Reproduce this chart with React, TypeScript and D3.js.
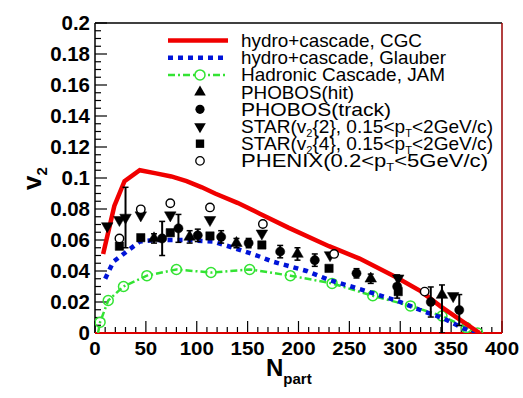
import React, { useEffect, useRef } from "react";
import * as d3 from "d3";

// model curves
const cgcN = [8, 19, 29, 44, 60, 75, 90, 105, 118, 140, 162, 190, 230, 260, 296, 320, 340, 360, 378];
const cgcV = [0.051, 0.082, 0.098, 0.105, 0.103, 0.101, 0.098, 0.094, 0.09, 0.084, 0.077, 0.068, 0.056, 0.048, 0.036, 0.027, 0.017, 0.008, 0.0];

const glauberN = [10, 18, 26, 33, 44, 60, 90, 116, 136, 159, 175, 208, 231, 257, 296, 319, 342, 362, 375];
const glauberV = [0.035, 0.046, 0.05, 0.0535, 0.059, 0.06, 0.06, 0.059, 0.055, 0.05, 0.046, 0.04, 0.034, 0.029, 0.021, 0.015, 0.0095, 0.003, 0.0];

const jamN = [3, 5, 13, 28, 51, 80, 114, 152, 192, 233, 273, 310, 341, 365, 376];
const jamV = [0.0, 0.007, 0.021, 0.03, 0.037, 0.041, 0.039, 0.041, 0.037, 0.032, 0.024, 0.0175, 0.011, 0.0035, 0.0];

// data
const phobosHitN = [58, 93, 139, 199, 271, 341];
const phobosHitV = [0.061, 0.062, 0.058, 0.051, 0.035, 0.0245];
const phobosHitErrHi = [0.003, 0.004, 0.003, 0.004, 0.003, 0.0065];
const phobosHitErrLo = [0.003, 0.004, 0.003, 0.004, 0.003, 0.0245];

const phobosTrackN = [66, 82, 101, 124, 151, 182, 216, 257, 297, 330, 358];
const phobosTrackV = [0.061, 0.0675, 0.063, 0.062, 0.058, 0.0525, 0.047, 0.0385, 0.03, 0.02, 0.0148];
const phobosTrackErr = [0.011, 0.009, 0.004, 0.004, 0.003, 0.004, 0.004, 0.003, 0.0075, 0.0097, 0.01];

const star2N = [12, 24, 30, 45, 74, 113, 164, 231, 298, 352];
const star2V = [0.069, 0.073, 0.0745, 0.076, 0.076, 0.073, 0.0643, 0.0503, 0.0353, 0.0239];
const star2Err = [0, 0, 0.0195, 0, 0, 0, 0, 0, 0, 0];

const star4N = [24, 45, 74, 113, 164, 230, 298];
const star4V = [0.056, 0.0615, 0.0647, 0.0626, 0.0568, 0.0417, 0.0267];

const phenixN = [24, 45, 74, 113, 165, 235, 324];
const phenixV = [0.061, 0.0798, 0.0837, 0.081, 0.0703, 0.051, 0.0267];

const xTicks = [0, 50, 100, 150, 200, 250, 300, 350, 400];
const yTicks = [0, 0.02, 0.04, 0.06, 0.08, 0.1, 0.12, 0.14, 0.16, 0.18, 0.2];
const yTickLabels = ["0", "0.02", "0.04", "0.06", "0.08", "0.1", "0.12", "0.14", "0.16", "0.18", "0.2"];

const legendLabels = [
  "hydro+cascade, CGC",
  "hydro+cascade, Glauber",
  "Hadronic Cascade, JAM",
  "PHOBOS(hit)",
  "PHOBOS(track)",
  "STAR2",
  "STAR4",
  "PHENIX",
];
const legendWidths = [181, 205, 204, 113, 150, 252, 252, 247];

const FONT = "Liberation Sans, Arial, Helvetica, sans-serif";

export default function App() {
  const svgRef = useRef<SVGSVGElement | null>(null);

  useEffect(() => {
    if (!svgRef.current) return;
    const svg = d3.select(svgRef.current);
    svg.selectAll("*").remove();

    const left = 95, right = 502, top = 23, bottom = 333;
    const x = d3.scaleLinear().domain([0, 400]).range([left, right]);
    const y = d3.scaleLinear().domain([0, 0.2]).range([bottom, top]);

    svg.append("rect").attr("width", 523).attr("height", 398).attr("fill", "#fff");

    const plot = svg.append("g");
    plot
      .append("clipPath")
      .attr("id", "clip")
      .append("rect")
      .attr("x", left)
      .attr("y", top)
      .attr("width", right - left)
      .attr("height", bottom - top);

    // ticks (inside frame)
    const xMinor = d3.range(0, 401, 10);
    plot
      .selectAll(".xt")
      .data(xMinor)
      .enter()
      .append("line")
      .attr("x1", (d) => x(d))
      .attr("x2", (d) => x(d))
      .attr("y1", bottom)
      .attr("y2", (d) => bottom - (d % 50 === 0 ? 12 : 6))
      .attr("stroke", "#000")
      .attr("stroke-width", 1.2);

    const yMinor = d3.range(0, 41).map((i) => i * 0.005);
    plot
      .selectAll(".yt")
      .data(yMinor)
      .enter()
      .append("line")
      .attr("x1", left)
      .attr("x2", (d, i) => left + (i % 4 === 0 ? 12 : 6))
      .attr("y1", (d) => y(d))
      .attr("y2", (d) => y(d))
      .attr("stroke", "#000")
      .attr("stroke-width", 1.2);

    // frame
    plot.append("line").attr("x1", left).attr("x2", right).attr("y1", top).attr("y2", top).attr("stroke", "#000").attr("stroke-width", 1.5);
    plot.append("line").attr("x1", left).attr("x2", left).attr("y1", top).attr("y2", bottom).attr("stroke", "#000").attr("stroke-width", 1.5);
    plot.append("line").attr("x1", right).attr("x2", right).attr("y1", top).attr("y2", bottom).attr("stroke", "#900").attr("stroke-width", 1.5);
    plot.append("line").attr("x1", left).attr("x2", right).attr("y1", bottom).attr("y2", bottom).attr("stroke", "#d00").attr("stroke-width", 2);

    // tick labels
    svg
      .selectAll(".xl")
      .data(xTicks)
      .enter()
      .append("text")
      .attr("transform", (d) => `translate(${x(d)},355) scale(1.08,1)`)
      .attr("text-anchor", "middle")
      .attr("font-family", FONT)
      .attr("font-weight", "bold")
      .attr("font-size", 19)
      .text((d) => d);

    svg
      .selectAll(".yl")
      .data(yTicks)
      .enter()
      .append("text")
      .attr("transform", (d) => `translate(90,${y(d) + 7}) scale(1.05,1)`)
      .attr("text-anchor", "end")
      .attr("font-family", FONT)
      .attr("font-weight", "bold")
      .attr("font-size", 19.5)
      .text((d, i) => yTickLabels[i]);

    // axis titles
    const xt = svg
      .append("text")
      .attr("x", 266)
      .attr("y", 376)
      .attr("font-family", FONT)
      .attr("font-weight", "bold")
      .attr("font-size", 24);
    xt.append("tspan").text("N");
    xt.append("tspan").attr("font-size", 15).attr("dy", 8).text("part");

    const yt = svg
      .append("text")
      .attr("transform", "translate(41,190) rotate(-90)")
      .attr("font-family", FONT)
      .attr("font-weight", "bold")
      .attr("font-size", 26);
    yt.append("tspan").text("v");
    yt.append("tspan").attr("font-size", 15).attr("dy", 6).text("2");

    const inner = plot.append("g").attr("clip-path", "url(#clip)");

    const curve = (ns: number[], vs: number[]) =>
      d3.line<number>().x((d, i) => x(ns[i])).y((d, i) => y(vs[i]))(ns) as string;

    inner
      .append("path")
      .attr("d", curve(jamN, jamV))
      .attr("fill", "none")
      .attr("stroke", "#33e333")
      .attr("stroke-width", 2.5)
      .attr("stroke-dasharray", "7,3,2,3");
    inner
      .selectAll(".jc")
      .data(jamN.slice(1))
      .enter()
      .append("circle")
      .attr("cx", (d) => x(d))
      .attr("cy", (d, i) => y(jamV[i + 1]))
      .attr("r", 5)
      .attr("fill", "none")
      .attr("stroke", "#33e333")
      .attr("stroke-width", 1.5);

    inner
      .append("path")
      .attr("d", curve(glauberN, glauberV))
      .attr("fill", "none")
      .attr("stroke", "#0014d8")
      .attr("stroke-width", 4.5)
      .attr("stroke-dasharray", "5,5");

    inner
      .append("path")
      .attr("d", curve(cgcN, cgcV))
      .attr("fill", "none")
      .attr("stroke", "#f00000")
      .attr("stroke-width", 4.5);

    // markers
    const tri = d3.symbol().type(d3.symbolTriangle).size(58);
    const sq = d3.symbol().type(d3.symbolSquare).size(70);
    const circ = d3.symbol().type(d3.symbolCircle).size(66);
    const ocirc = d3.symbol().type(d3.symbolCircle).size(56);

    const errBars = (ns: number[], vs: number[], hi: number[], lo: number[]) => {
      ns.forEach((n, i) => {
        if (!hi[i] && !lo[i]) return;
        const cx = x(n);
        const y1 = y(vs[i] + hi[i]);
        const y2 = y(vs[i] - lo[i]);
        inner.append("line").attr("x1", cx).attr("x2", cx).attr("y1", y1).attr("y2", y2).attr("stroke", "#000").attr("stroke-width", 2);
        inner.append("line").attr("x1", cx - 3).attr("x2", cx + 3).attr("y1", y1).attr("y2", y1).attr("stroke", "#000").attr("stroke-width", 1.5);
        inner.append("line").attr("x1", cx - 3).attr("x2", cx + 3).attr("y1", y2).attr("y2", y2).attr("stroke", "#000").attr("stroke-width", 1.5);
      });
    };

    errBars(phobosHitN, phobosHitV, phobosHitErrHi, phobosHitErrLo);
    errBars(phobosTrackN, phobosTrackV, phobosTrackErr, phobosTrackErr);
    errBars(star2N, star2V, star2Err, star2Err);

    const markers = (ns: number[], vs: number[], path: string, rot: number, fill: string) => {
      inner
        .selectAll(null)
        .data(ns)
        .enter()
        .append("path")
        .attr("d", path)
        .attr("transform", (d, i) => `translate(${x(d)},${y(vs[i])}) rotate(${rot})`)
        .attr("fill", fill)
        .attr("stroke", "#000")
        .attr("stroke-width", fill === "#000" ? 0.5 : 1.4);
    };

    markers(phobosHitN, phobosHitV, tri()!, 0, "#000");
    markers(phobosTrackN, phobosTrackV, circ()!, 0, "#000");
    markers(star2N, star2V, tri()!, 180, "#000");
    markers(star4N, star4V, sq()!, 0, "#000");
    markers(phenixN, phenixV, ocirc()!, 0, "#fff");

    // legend
    const lg = svg.append("g").attr("font-family", FONT).attr("font-size", 19);
    const base0 = 47, step = 17.2;
    const lx1 = 168, lx2 = 228, mx = 200, tx = 241;
    legendLabels.forEach((lab, i) => {
      const by = base0 + i * step;
      const cy = by - 6.5;
      if (i === 0) lg.append("line").attr("x1", lx1).attr("x2", lx2).attr("y1", cy).attr("y2", cy).attr("stroke", "#f00000").attr("stroke-width", 4.5);
      if (i === 1) lg.append("line").attr("x1", lx1).attr("x2", lx2).attr("y1", cy).attr("y2", cy).attr("stroke", "#0014d8").attr("stroke-width", 4.5).attr("stroke-dasharray", "5,5");
      if (i === 2) {
        lg.append("line").attr("x1", lx1).attr("x2", lx2).attr("y1", cy).attr("y2", cy).attr("stroke", "#33e333").attr("stroke-width", 2.5).attr("stroke-dasharray", "7,3,2,3");
        lg.append("circle").attr("cx", mx).attr("cy", cy).attr("r", 5).attr("fill", "#fff").attr("stroke", "#33e333").attr("stroke-width", 1.5);
      }
      if (i === 3) lg.append("path").attr("d", tri()!).attr("transform", `translate(${mx},${cy})`).attr("fill", "#000");
      if (i === 4) lg.append("path").attr("d", circ()!).attr("transform", `translate(${mx},${cy})`).attr("fill", "#000");
      if (i === 5) lg.append("path").attr("d", tri()!).attr("transform", `translate(${mx},${cy}) rotate(180)`).attr("fill", "#000");
      if (i === 6) lg.append("path").attr("d", sq()!).attr("transform", `translate(${mx},${cy})`).attr("fill", "#000");
      if (i === 7) lg.append("path").attr("d", ocirc()!).attr("transform", `translate(${mx},${cy})`).attr("fill", "#fff").attr("stroke", "#000").attr("stroke-width", 1.3);

      const t = lg
        .append("text")
        .attr("x", tx)
        .attr("y", by)
        .attr("textLength", legendWidths[i])
        .attr("lengthAdjust", "spacingAndGlyphs");
      if (lab === "STAR2" || lab === "STAR4") {
        t.append("tspan").text("STAR(v");
        t.append("tspan").attr("font-size", 11).attr("dy", 4).text("2");
        t.append("tspan").attr("dy", -4).text(lab === "STAR2" ? "{2}, 0.15<p" : "{4}, 0.15<p");
        t.append("tspan").attr("font-size", 11).attr("dy", 4).text("T");
        t.append("tspan").attr("dy", -4).text("<2GeV/c)");
      } else if (lab === "PHENIX") {
        t.append("tspan").text("PHENIX(0.2<p");
        t.append("tspan").attr("font-size", 11).attr("dy", 4).text("T");
        t.append("tspan").attr("dy", -4).text("<5GeV/c)");
      } else {
        t.text(lab);
      }
    });
  }, []);

  return (
    <div style={{ position: "absolute", left: 0, top: 0 }}>
      <svg ref={svgRef} width={523} height={398} />
    </div>
  );
}
